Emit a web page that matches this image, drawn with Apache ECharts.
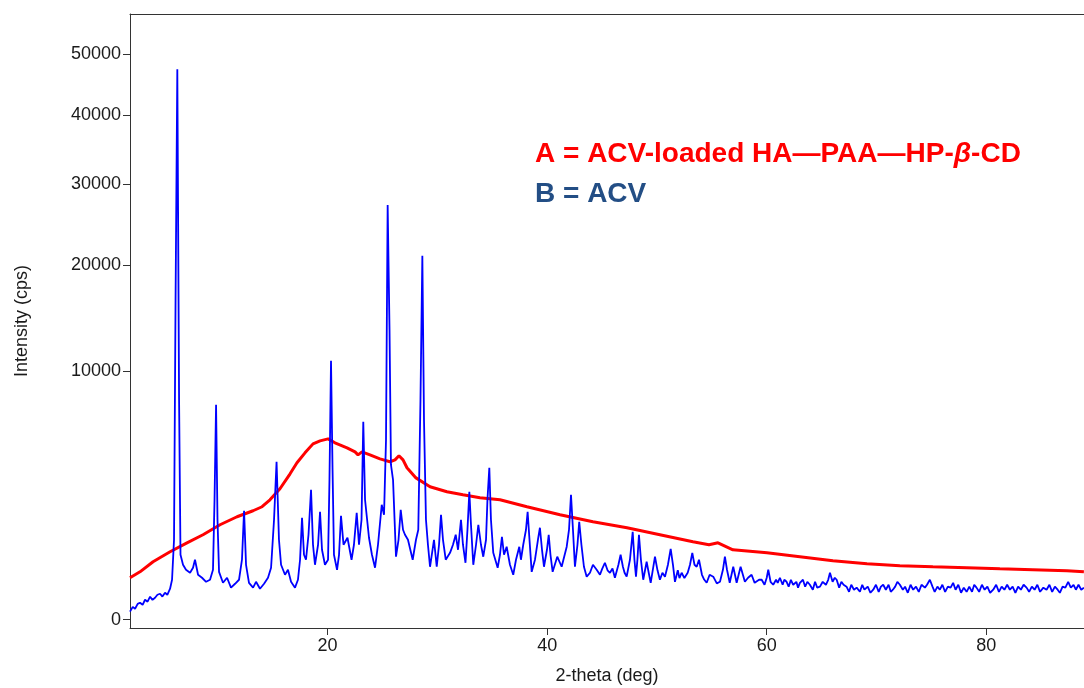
<!DOCTYPE html>
<html>
<head>
<meta charset="utf-8">
<script src="https://cdn.jsdelivr.net/npm/echarts@6/dist/echarts.min.js"></script>
<style>html,body{margin:0;padding:0;background:#fff}#c{width:1084px;height:688px}</style>
</head>
<body>
<div id="c"></div>
<script>
// Tick labels
const xTicks = [20, 40, 60, 80];
const yTicks = [0, 10000, 20000, 30000, 40000, 50000];

// Series A: ACV-loaded HA-PAA-HP-beta-CD  [2-theta (deg), intensity (cps)]
const seriesA = [
  [2.00,305],[2.91,395],[4.10,575],[5.65,785],[7.19,1000],[8.65,1216],[10.20,1512],
  [11.75,1772],[13.21,1980],[14.03,2125],[14.75,2390],[15.66,2838],[16.58,3510],
  [17.21,4050],[17.94,4565],[18.67,5060],[19.31,5230],[20.04,5345],[20.67,5120],
  [21.77,4840],[22.50,4620],[22.77,4460],[23.13,4620],[23.86,4460],[24.77,4250],
  [25.68,4100],[26.14,4199],[26.50,4410],[26.87,4199],[27.23,3800],[28.05,3320],
  [29.33,2925],[30.87,2712],[32.33,2588],[33.88,2470],[35.70,2390],[38.16,2125],
  [41.17,1840],[44.17,1605],[47.27,1420],[50.27,1216],[53.28,1026],[54.74,951],
  [55.56,1000],[56.92,830],[60.02,760],[63.02,676],[66.03,594],[69.13,535],
  [72.13,499],[75.14,481],[78.23,464],[81.24,446],[84.24,429],[87.34,412],[88.89,395]
];

// Series B: ACV  [2-theta (deg), intensity (cps)]
const seriesB = [
  [2.00,12],[2.25,30],[2.46,22],[2.70,45],[2.91,52],[3.15,40],[3.37,71],[3.60,58],
  [3.83,94],[4.05,70],[4.28,86],[4.50,110],[4.74,119],[4.95,95],[5.19,128],[5.40,110],
  [5.65,168],[5.83,277],[6.01,1079],[6.15,16350],[6.31,47400],[6.47,7850],[6.60,718],
  [6.83,517],[7.10,429],[7.47,380],[7.74,464],[7.92,614],[8.20,349],[8.56,305],
  [8.93,250],[9.29,277],[9.56,429],[9.70,2390],[9.84,7495],[9.97,1672],[10.11,395],
  [10.47,237],[10.84,305],[11.20,180],[11.57,225],[11.93,277],[12.20,614],[12.39,1980],
  [12.57,517],[12.84,237],[13.21,180],[13.48,250],[13.84,168],[14.21,225],[14.57,305],
  [14.85,464],[15.12,1672],[15.35,4100],[15.57,1079],[15.76,517],[16.12,349],[16.39,429],
  [16.67,250],[17.03,180],[17.30,277],[17.49,614],[17.67,1740],[17.85,718],[18.03,614],
  [18.26,1216],[18.49,2795],[18.67,951],[18.85,517],[19.13,951],[19.31,1945],[19.49,830],
  [19.76,517],[20.04,614],[20.17,3232],[20.31,10800],[20.45,3700],[20.58,718],[20.86,429],
  [21.04,718],[21.22,1805],[21.45,951],[21.81,1133],[22.18,614],[22.40,951],[22.65,1910],
  [22.86,951],[23.09,1672],[23.25,6380],[23.41,2390],[23.77,1133],[24.04,718],[24.32,464],
  [24.59,951],[24.93,2198],[25.14,1840],[25.32,5289],[25.47,27200],[25.64,13480],
  [25.77,3950],[25.96,3232],[26.23,676],[26.46,1079],[26.66,2015],[26.87,1360],
  [27.05,1216],[27.32,1079],[27.75,614],[28.05,1079],[28.26,1360],[28.46,7850],
  [28.63,21060],[28.78,6503],[28.96,1672],[29.14,951],[29.33,481],[29.69,1079],
  [29.94,481],[30.15,951],[30.33,1840],[30.51,1079],[30.76,614],[31.15,760],[31.42,951],
  [31.67,1216],[31.88,830],[32.15,1672],[32.33,951],[32.56,555],[32.74,1360],[32.91,2712],
  [33.06,1512],[33.27,517],[33.52,951],[33.73,1512],[33.97,951],[34.18,676],[34.43,1079],
  [34.56,2390],[34.73,3800],[34.88,1672],[35.09,760],[35.49,464],[35.70,718],[35.88,1160],
  [36.07,718],[36.31,902],[36.61,517],[36.91,349],[37.16,614],[37.46,902],[37.61,614],
  [37.82,951],[38.07,1360],[38.22,1945],[38.39,1079],[38.59,395],[38.89,614],[39.16,1079],
  [39.34,1420],[39.53,830],[39.71,481],[39.98,830],[40.14,1216],[40.30,718],[40.50,395],
  [40.92,676],[41.32,481],[41.78,902],[41.99,1360],[42.17,2588],[42.35,1360],[42.53,481],
  [42.76,951],[42.92,1605],[43.12,951],[43.35,481],[43.60,320],[43.90,380],[44.17,517],
  [44.51,429],[44.81,349],[45.00,440],[45.26,555],[45.50,420],[45.72,380],[45.95,450],
  [46.17,305],[46.49,517],[46.69,718],[46.90,481],[47.05,380],[47.24,320],[47.54,614],
  [47.79,1300],[47.95,614],[48.09,320],[48.22,614],[48.36,1216],[48.54,614],[48.75,277],
  [49.06,575],[49.25,380],[49.43,237],[49.82,676],[50.05,420],[50.27,277],[50.50,380],
  [50.73,320],[51.00,517],[51.25,853],[51.46,517],[51.64,250],[51.90,420],[52.05,300],
  [52.25,380],[52.50,300],[52.80,380],[53.01,517],[53.22,760],[53.42,517],[53.62,481],
  [53.83,614],[54.10,349],[54.30,280],[54.53,237],[54.80,350],[55.13,320],[55.45,230],
  [55.74,250],[56.01,429],[56.19,676],[56.38,429],[56.63,237],[56.95,481],[57.26,237],
  [57.62,481],[58.01,250],[58.30,305],[58.62,349],[58.90,237],[59.08,213],[59.30,277],
  [59.54,277],[59.80,213],[60.00,305],[60.14,429],[60.35,250],[60.59,213],[60.85,277],
  [61.00,237],[61.20,305],[61.45,213],[61.60,277],[61.81,250],[62.00,191],[62.20,277],
  [62.41,213],[62.70,250],[62.85,180],[63.02,237],[63.30,277],[63.50,191],[63.70,250],
  [63.93,213],[64.20,158],[64.40,250],[64.60,180],[64.85,191],[65.10,250],[65.39,213],
  [65.60,277],[65.76,380],[66.00,250],[66.20,305],[66.37,277],[66.60,180],[66.80,250],
  [67.00,213],[67.27,191],[67.50,137],[67.70,213],[67.95,158],[68.19,180],[68.49,137],
  [68.70,213],[68.90,158],[69.20,191],[69.45,128],[69.70,158],[69.95,213],[70.20,137],
  [70.40,191],[70.61,213],[70.85,158],[71.10,213],[71.30,137],[71.49,158],[71.70,191],
  [71.90,250],[72.13,213],[72.40,158],[72.60,191],[72.85,128],[73.10,213],[73.34,158],
  [73.60,191],[73.85,137],[74.10,213],[74.41,180],[74.60,213],[74.86,277],[75.10,191],
  [75.30,137],[75.55,191],[75.77,158],[76.00,213],[76.25,137],[76.50,191],[76.75,180],
  [76.98,237],[77.20,158],[77.45,213],[77.70,128],[77.95,180],[78.21,137],[78.45,191],
  [78.70,137],[78.90,213],[79.11,180],[79.35,137],[79.60,213],[79.85,158],[80.10,191],
  [80.35,128],[80.63,158],[80.90,213],[81.15,137],[81.40,191],[81.65,158],[81.90,213],
  [82.15,158],[82.40,191],[82.65,128],[82.90,191],[83.15,158],[83.40,213],[83.67,180],
  [83.90,137],[84.15,191],[84.40,158],[84.65,213],[84.90,137],[85.20,180],[85.49,158],
  [85.75,213],[86.00,137],[86.25,191],[86.50,158],[86.70,128],[86.95,191],[87.20,180],
  [87.46,250],[87.70,180],[87.95,213],[88.16,158],[88.40,213],[88.65,158],[88.89,180]
];

// power scale used by the reference's intensity axis
const POW = 0.51;
const f = v => Math.pow(Math.max(v, 0), POW);
const tr = arr => arr.map(p => [p[0], f(p[1])]);

const FONT = '"Liberation Sans", Arial, Helvetica, sans-serif';
const chart = echarts.init(document.getElementById('c'), null, {renderer: 'canvas'});
const yTickPos = yTicks.map(f);

chart.setOption({
  animation: false,
  textStyle: {fontFamily: FONT},
  grid: {left: 130, right: 0, top: 14, bottom: 60, containLabel: false, outerBoundsMode: 'none'},
  title: [
    {
      text: '{a|A = ACV-loaded HA—PAA—HP-}{b|β}{a|-CD}',
      left: 535, top: 140, padding: 0,
      textStyle: {
        rich: {
          a: {fontSize: 28, fontWeight: 'bold', color: '#ff0000', fontFamily: FONT, lineHeight: 28},
          b: {fontSize: 28, fontWeight: 'bold', fontStyle: 'italic', color: '#ff0000', fontFamily: FONT, lineHeight: 28}
        }
      }
    },
    {
      text: 'B = ACV', left: 535, top: 180, padding: 0,
      textStyle: {fontSize: 28, fontWeight: 'bold', color: '#234e85', fontFamily: FONT, lineHeight: 28}
    }
  ],
  xAxis: [
    {
      type: 'value', min: 2, max: 88.9,
      name: '2-theta (deg)', nameLocation: 'middle', nameGap: 39,
      nameTextStyle: {fontSize: 18, color: '#1a1a1a', fontFamily: FONT},
      axisLine: {show: true, onZero: false, lineStyle: {color: '#333', width: 1}},
      axisTick: {show: true, customValues: xTicks, length: 7, lineStyle: {color: '#333'}},
      axisLabel: {customValues: xTicks, fontSize: 18, margin: 9, color: '#1a1a1a', fontFamily: FONT},
      splitLine: {show: false}
    },
    {
      type: 'value', position: 'top', min: 2, max: 88.9,
      axisLine: {show: true, onZero: false, lineStyle: {color: '#333', width: 1}},
      axisTick: {show: false}, axisLabel: {show: false}, splitLine: {show: false}
    }
  ],
  yAxis: {
    type: 'value', min: -3.65, max: 266.85,
    name: 'Intensity (cps)', nameLocation: 'middle', nameGap: 99,
    nameTextStyle: {fontSize: 18, color: '#1a1a1a', fontFamily: FONT},
    axisLine: {show: true, onZero: false, lineStyle: {color: '#333', width: 1}},
    axisTick: {show: true, customValues: yTickPos, length: 7, lineStyle: {color: '#333'}},
    axisLabel: {
      customValues: yTickPos, fontSize: 18, margin: 9, color: '#1a1a1a', fontFamily: FONT,
      formatter: v => {
        const i = yTickPos.findIndex(t => Math.abs(t - v) < 1e-6);
        return i < 0 ? '' : String(yTicks[i]);
      }
    },
    splitLine: {show: false}
  },
  series: [
    {
      name: 'A', type: 'line', data: tr(seriesA), showSymbol: false, symbol: 'none',
      lineStyle: {color: '#ff0000', width: 3}, z: 2
    },
    {
      name: 'B', type: 'line', data: tr(seriesB), showSymbol: false, symbol: 'none',
      lineStyle: {color: '#0000ff', width: 1.8}, z: 3
    }
  ]
});
</script>
</body>
</html>
